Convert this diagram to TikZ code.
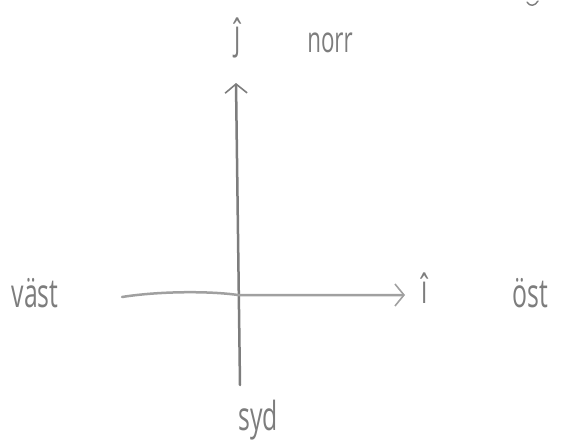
\documentclass[tikz,border=0pt]{standalone}
\usepackage{fontspec}
\setmainfont{Open Sans}
\usetikzlibrary{arrows.meta}
\definecolor{pencil}{RGB}{125,125,125}
\definecolor{pencillight}{RGB}{160,160,160}
\tikzset{
  lbl/.style={text=pencil, font=\fontsize{40}{42}\selectfont, inner sep=0pt, xscale=0.62, transform shape},
  axisline/.style={line width=2.5pt, line cap=round},
  tip/.style={-{Straight Barb[length=9pt,width=22pt,line width=1.6pt]}}
}
\begin{document}
\begin{tikzpicture}[x=1pt,y=-1pt]
\useasboundingbox (0,0) rectangle (571,447);
% axes
\coordinate (vbot) at (240,385);
\coordinate (vtop) at (236,83);
\coordinate (hleft) at (122,297);
\coordinate (hmid) at (238,295);
\coordinate (hright) at (405,295);
\draw[axisline, draw=pencil, tip] (vbot) -- (vtop);
\draw[axisline, draw=pencillight, tip] (hleft) .. controls (160,291) and (210,291) .. (hmid) -- (hright);
% labels
\node[lbl] (j) at (238,38) {ĵ};
\node[lbl, font=\fontsize{36}{38}\selectfont] (norr) at (330,43) {norr};
\node[lbl] (vast) at (35,293) {väst};
\node[lbl] (i) at (425,288) {î};
\node[lbl] (ost) at (530,293) {öst};
\node[lbl] (syd) at (258,420) {syd};
% fragment at top right
\draw[pencil, line width=1.4pt, line cap=round] (527,2) .. controls (530,7) and (535,6) .. (538,1);
\end{tikzpicture}
\end{document}
